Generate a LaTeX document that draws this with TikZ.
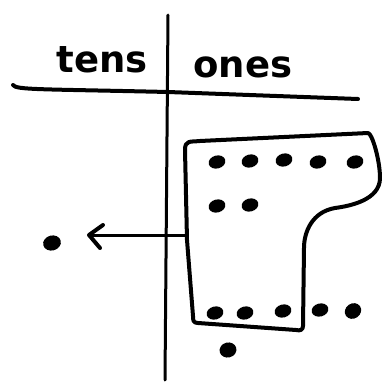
\documentclass[tikz,border=0pt]{standalone}
\usepackage{fontspec}
\setmainfont{DejaVu Sans}
\usetikzlibrary{shapes.geometric}
\begin{document}
\begin{tikzpicture}[x=1pt,y=-1pt,
  ink/.style={line width=4pt,line cap=round,line join=round,black},
  dot/.style={ellipse,fill=black,minimum width=17pt,minimum height=13pt,inner sep=0pt,rotate=15},
  lbl/.style={font=\fontsize{37}{37}\selectfont\bfseries,inner sep=0pt,anchor=base}]
\useasboundingbox (0,0) rectangle (384,383);
\fill[white] (0,0) rectangle (384,383);
% place value chart lines
\coordinate (vtop) at (168,15);
\coordinate (vbot) at (165,380);
\coordinate (hl) at (13,85);
\coordinate (hr) at (358,99);
\draw[ink,line width=3pt] (vtop) -- (vbot);
\draw[ink] (hl) .. controls (16,90) and (40,89) .. (168,92) -- (hr);
% headings
\node[lbl] (tens) at (102,72) {tens};
\node[lbl] (ones) at (243,77) {ones};
% grouping outline
\draw[ink] (185,150) .. controls (185,140) and (190,142) .. (200,141)
  -- (368,133) .. controls (372,133) and (380,160) .. (380,178)
  .. controls (380,200) and (350,206) .. (335,208)
  .. controls (312,212) and (304,232) .. (304,248)
  -- (303,326) .. controls (303,330) and (300,331) .. (296,330)
  -- (198,323) .. controls (193,323) and (193,320) .. (193,316)
  -- (187,240) -- (185,150);
% dots
\node[dot] (a1) at (217,162) {};
\node[dot] (a2) at (250,161) {};
\node[dot] (a3) at (284,160) {};
\node[dot] (a4) at (318,162) {};
\node[dot] (a5) at (355,162) {};
\node[dot] (b1) at (217,206) {};
\node[dot] (b2) at (250,205) {};
\node[dot] (c1) at (215,313) {};
\node[dot] (c2) at (245,313) {};
\node[dot] (c3) at (283,311) {};
\node[dot] (c4) at (320,310) {};
\node[dot,rotate=20,minimum width=17pt,minimum height=15pt] (c5) at (353,311) {};
\node[dot,minimum width=17pt,minimum height=15pt] (d1) at (228,350) {};
\node[dot,minimum width=18pt,minimum height=15pt] (t1) at (52,243) {};
% regroup arrow
\coordinate (from) at (186,235);
\coordinate (tip) at (89,235);
\draw[ink,line width=3pt] (from) -- (tip);
\draw[ink] (103,225) -- (tip) -- (100,248);
\end{tikzpicture}
\end{document}
